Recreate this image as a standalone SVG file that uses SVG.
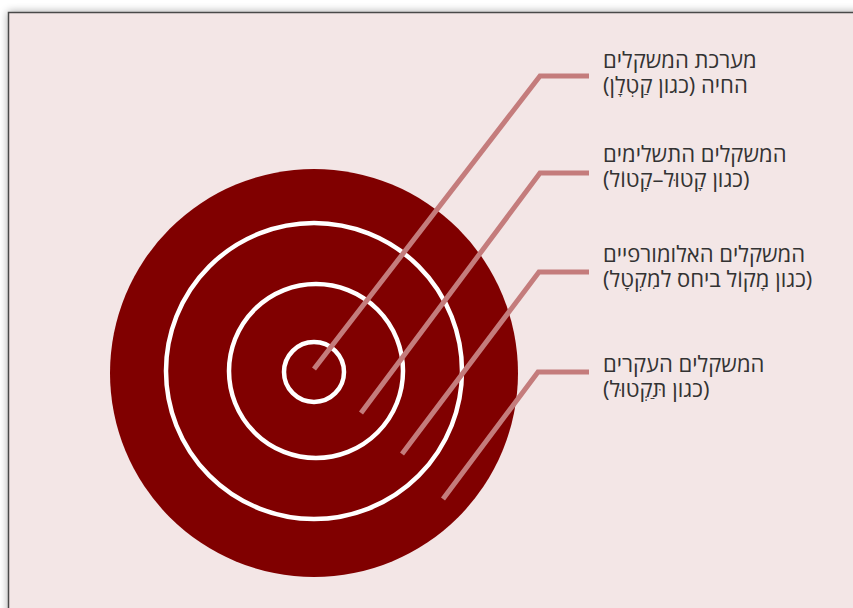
<svg xmlns="http://www.w3.org/2000/svg" width="853" height="608" viewBox="0 0 853 608">
  <defs>
    <filter id="shadow" x="-5%" y="-5%" width="110%" height="110%">
      <feGaussianBlur in="SourceAlpha" stdDeviation="4"/>
      <feOffset dx="0" dy="0" result="b"/>
      <feComponentTransfer><feFuncA type="linear" slope="0.35"/></feComponentTransfer>
      <feMerge><feMergeNode/><feMergeNode in="SourceGraphic"/></feMerge>
    </filter>
  </defs>
  <style>
    .ring { fill: none; stroke: #ffffff; stroke-width: 4.5; }
    .conn { fill: none; stroke: #c47c7c; stroke-width: 5; stroke-linejoin: miter; }
    .lbl { font-family: "Open Sans", "DejaVu Sans", "Liberation Sans", sans-serif; font-size: 22px; fill: #333333; direction: rtl; unicode-bidi: embed; text-anchor: end; }
  </style>
  <rect width="853" height="608" fill="#ffffff"/>
  <rect id="panel" x="8.5" y="12.5" width="870" height="620" fill="#f3e6e6" stroke="#4a4a4a" stroke-width="1.5" filter="url(#shadow)"/>

  <g id="target">
    <circle cx="314" cy="373" r="204" fill="#800000"/>
    <circle class="ring" cx="314" cy="371" r="148"/>
    <circle class="ring" cx="316" cy="371" r="87"/>
    <circle class="ring" cx="314" cy="372" r="30"/>
  </g>

  <g id="connectors">
    <polyline class="conn" points="314,369 540,76 589,76"/>
    <polyline class="conn" points="361,413 540,173 589,173"/>
    <polyline class="conn" points="402,454 539,272 589,272"/>
    <polyline class="conn" points="443,499 538,372 589,372"/>
  </g>

  <g id="label1">
    <text class="lbl" x="603" y="68">מערכת המשקלים</text>
    <text class="lbl" x="603" y="93">החיה (כגון קַטְלָן)</text>
  </g>
  <g id="label2">
    <text class="lbl" x="603" y="162">המשקלים התשלימים</text>
    <text class="lbl" x="603" y="187">(כגון קָטוּל–קָטוֹל)</text>
  </g>
  <g id="label3">
    <text class="lbl" x="603" y="262">המשקלים האלומורפיים</text>
    <text class="lbl" x="603" y="287">(כגון מָקוֹל ביחס למִקְטָל)</text>
  </g>
  <g id="label4">
    <text class="lbl" x="603" y="372">המשקלים העקרים</text>
    <text class="lbl" x="603" y="397">(כגון תַּקְטוּל)</text>
  </g>
</svg>
